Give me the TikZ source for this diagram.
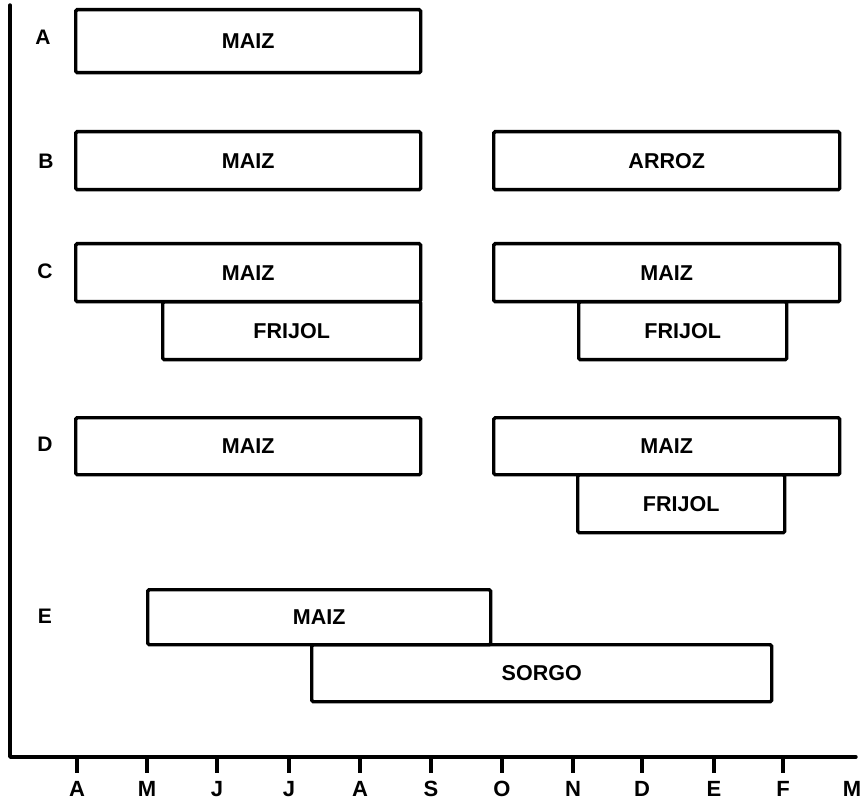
\documentclass[tikz,border=0pt]{standalone}
\usepackage{fontspec}
\setmainfont{Liberation Sans}
\begin{document}
\begin{tikzpicture}[x=1pt,y=-1pt,
  box/.style={draw, line width=3.4pt, rounded corners=1.5pt, fill=white, anchor=north west, inner sep=0pt, font=\bfseries\fontsize{21.5}{21.5}\selectfont},
  rowlab/.style={font=\bfseries\fontsize{21}{21}\selectfont},
  monlab/.style={font=\bfseries\fontsize{22}{22}\selectfont, inner sep=0pt, anchor=base},
  axis/.style={line width=3.4pt, line cap=round, line join=round},
  tick/.style={line width=3.6pt}]
\useasboundingbox (0,0) rectangle (862,799);
% axes
\coordinate (top) at (10,5);
\coordinate (orig) at (10,757);
\coordinate (end) at (856,757);
\draw[axis] (top) -- (orig) -- (end);
% ticks and month labels
\foreach \x/\m/\n in {77/A/t1,147/M/t2,217/J/t3,289/J/t4,360/A/t5,431/S/t6,502/O/t7,573/N/t8,642/D/t9,714/E/t10,783/F/t11}{
  \coordinate (\n a) at (\x,757);
  \coordinate (\n b) at (\x,773);
  \draw[tick] (\n a) -- (\n b);
  \node[monlab] (\n l) at (\x,796) {\m};
}
\node[monlab] (t12l) at (852,796) {M};
% row labels
\node[rowlab] (ra) at (43,37) {A};
\node[rowlab] (rb) at (46,161) {B};
\node[rowlab] (rc) at (45,271) {C};
\node[rowlab] (rd) at (45,444) {D};
\node[rowlab] (re) at (45,616) {E};
% row A
\node[box, minimum width=345pt, minimum height=63pt] (a1) at (74,8) {MAIZ};
% row B
\node[box, minimum width=345pt, minimum height=58pt] (b1) at (74,130) {MAIZ};
\node[box, minimum width=346pt, minimum height=58pt] (b2) at (492,130) {ARROZ};
% row C
\node[box, minimum width=258pt, minimum height=58pt] (c2) at (161,300) {FRIJOL};
\node[box, minimum width=345pt, minimum height=58pt] (c1) at (74,242) {MAIZ};
\node[box, minimum width=208pt, minimum height=58pt] (c4) at (577,300) {FRIJOL};
\node[box, minimum width=346pt, minimum height=58pt] (c3) at (492,242) {MAIZ};
% row D
\node[box, minimum width=345pt, minimum height=57pt] (d1) at (74,416) {MAIZ};
\node[box, minimum width=207pt, minimum height=58pt] (d3) at (576,473) {FRIJOL};
\node[box, minimum width=346pt, minimum height=57pt] (d2) at (492,416) {MAIZ};
% row E
\node[box, minimum width=460pt, minimum height=57pt] (e2) at (310,643) {SORGO};
\node[box, minimum width=343pt, minimum height=55pt] (e1) at (146,588) {MAIZ};
\end{tikzpicture}
\end{document}
